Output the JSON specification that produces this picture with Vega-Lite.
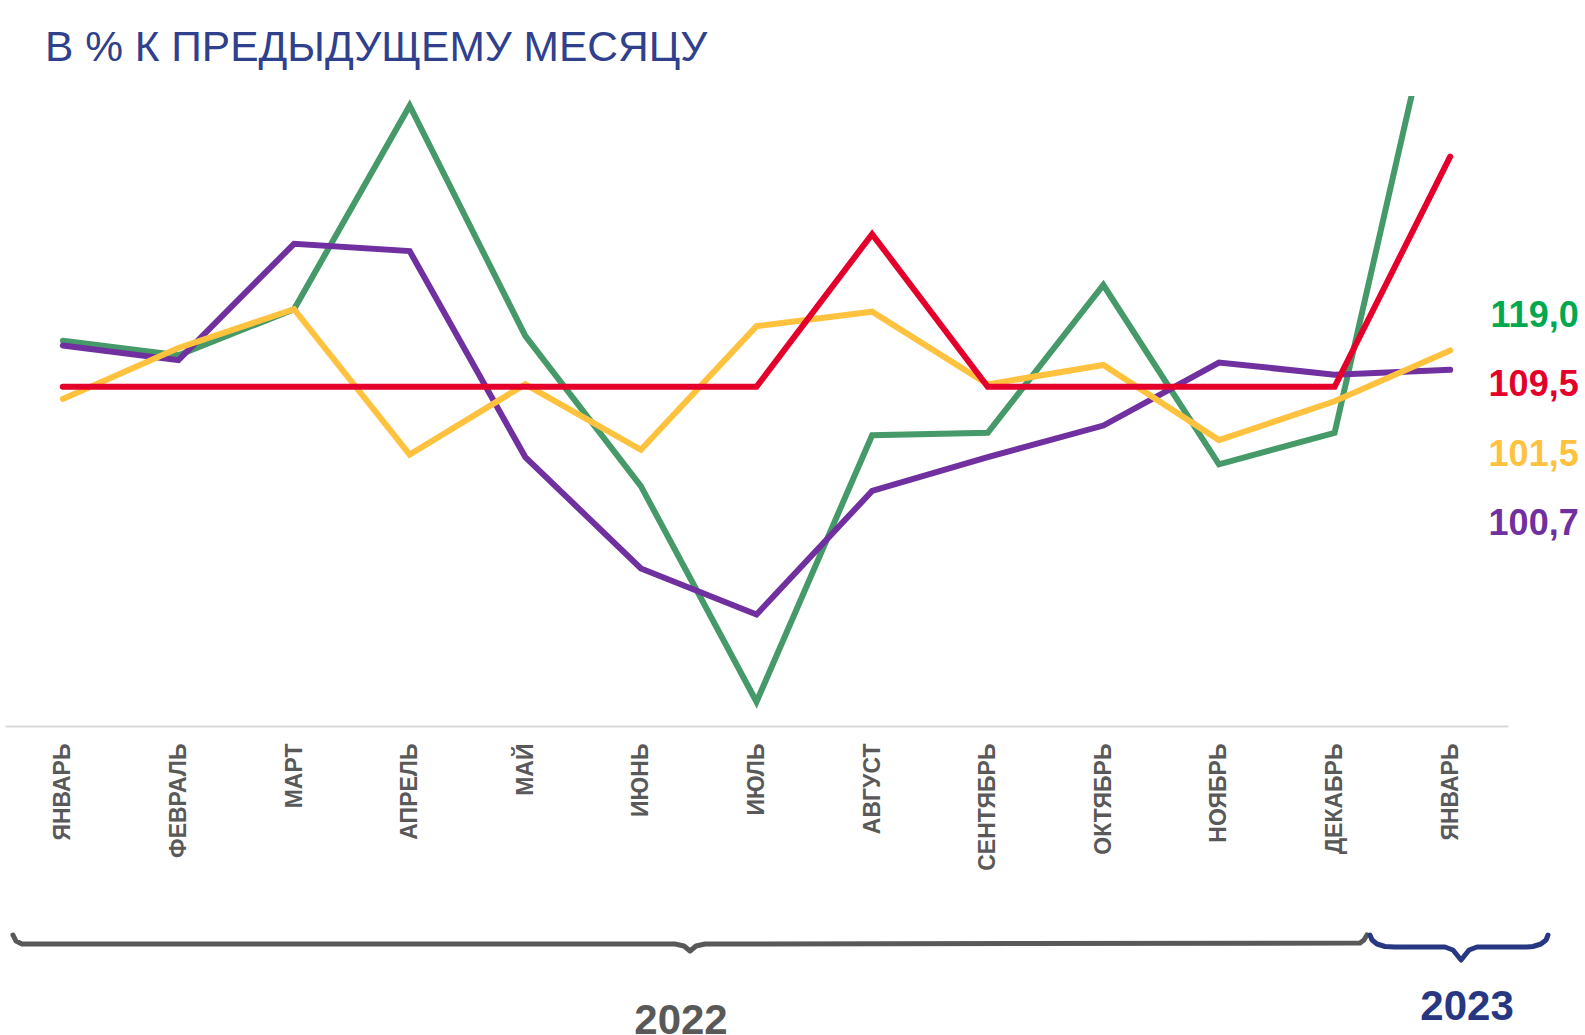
{
  "$schema": "https://vega.github.io/schema/vega-lite/v6.json",
  "background": "white",
  "padding": {"left": 5, "top": 26, "right": 5, "bottom": 0},
  "title": {
    "text": "В % К ПРЕДЫДУЩЕМУ МЕСЯЦУ",
    "anchor": "start",
    "frame": "group",
    "font": "Liberation Sans",
    "fontSize": 42.5,
    "fontWeight": "normal",
    "color": "#2F408C",
    "baseline": "alphabetic",
    "dx": 40,
    "offset": -7
  },
  "config": {"view": {"stroke": null}},
  "datasets": {
    "lines": [
      {"series": "green", "month": "ЯНВАРЬ 2022", "value": 101.9},
      {"series": "green", "month": "ФЕВРАЛЬ 2022", "value": 101.3},
      {"series": "green", "month": "МАРТ 2022", "value": 103.2},
      {"series": "green", "month": "АПРЕЛЬ 2022", "value": 111.6},
      {"series": "green", "month": "МАЙ 2022", "value": 102.1},
      {"series": "green", "month": "ИЮНЬ 2022", "value": 95.9},
      {"series": "green", "month": "ИЮЛЬ 2022", "value": 87.0},
      {"series": "green", "month": "АВГУСТ 2022", "value": 98.0},
      {"series": "green", "month": "СЕНТЯБРЬ 2022", "value": 98.1},
      {"series": "green", "month": "ОКТЯБРЬ 2022", "value": 104.2},
      {"series": "green", "month": "НОЯБРЬ 2022", "value": 96.8},
      {"series": "green", "month": "ДЕКАБРЬ 2022", "value": 98.1},
      {"series": "green", "month": "ЯНВАРЬ 2023", "value": 119.0},
      {"series": "purple", "month": "ЯНВАРЬ 2022", "value": 101.7},
      {"series": "purple", "month": "ФЕВРАЛЬ 2022", "value": 101.1},
      {"series": "purple", "month": "МАРТ 2022", "value": 105.9},
      {"series": "purple", "month": "АПРЕЛЬ 2022", "value": 105.6},
      {"series": "purple", "month": "МАЙ 2022", "value": 97.1},
      {"series": "purple", "month": "ИЮНЬ 2022", "value": 92.5},
      {"series": "purple", "month": "ИЮЛЬ 2022", "value": 90.6},
      {"series": "purple", "month": "АВГУСТ 2022", "value": 95.7},
      {"series": "purple", "month": "СЕНТЯБРЬ 2022", "value": 97.1},
      {"series": "purple", "month": "ОКТЯБРЬ 2022", "value": 98.4},
      {"series": "purple", "month": "НОЯБРЬ 2022", "value": 101.0},
      {"series": "purple", "month": "ДЕКАБРЬ 2022", "value": 100.5},
      {"series": "purple", "month": "ЯНВАРЬ 2023", "value": 100.7},
      {"series": "yellow", "month": "ЯНВАРЬ 2022", "value": 99.5},
      {"series": "yellow", "month": "ФЕВРАЛЬ 2022", "value": 101.6},
      {"series": "yellow", "month": "МАРТ 2022", "value": 103.2},
      {"series": "yellow", "month": "АПРЕЛЬ 2022", "value": 97.2},
      {"series": "yellow", "month": "МАЙ 2022", "value": 100.1},
      {"series": "yellow", "month": "ИЮНЬ 2022", "value": 97.4},
      {"series": "yellow", "month": "ИЮЛЬ 2022", "value": 102.5},
      {"series": "yellow", "month": "АВГУСТ 2022", "value": 103.1},
      {"series": "yellow", "month": "СЕНТЯБРЬ 2022", "value": 100.1},
      {"series": "yellow", "month": "ОКТЯБРЬ 2022", "value": 100.9},
      {"series": "yellow", "month": "НОЯБРЬ 2022", "value": 97.8},
      {"series": "yellow", "month": "ДЕКАБРЬ 2022", "value": 99.4},
      {"series": "yellow", "month": "ЯНВАРЬ 2023", "value": 101.5},
      {"series": "red", "month": "ЯНВАРЬ 2022", "value": 100.0},
      {"series": "red", "month": "ФЕВРАЛЬ 2022", "value": 100.0},
      {"series": "red", "month": "МАРТ 2022", "value": 100.0},
      {"series": "red", "month": "АПРЕЛЬ 2022", "value": 100.0},
      {"series": "red", "month": "МАЙ 2022", "value": 100.0},
      {"series": "red", "month": "ИЮНЬ 2022", "value": 100.0},
      {"series": "red", "month": "ИЮЛЬ 2022", "value": 100.0},
      {"series": "red", "month": "АВГУСТ 2022", "value": 106.3},
      {"series": "red", "month": "СЕНТЯБРЬ 2022", "value": 100.0},
      {"series": "red", "month": "ОКТЯБРЬ 2022", "value": 100.0},
      {"series": "red", "month": "НОЯБРЬ 2022", "value": 100.0},
      {"series": "red", "month": "ДЕКАБРЬ 2022", "value": 100.0},
      {"series": "red", "month": "ЯНВАРЬ 2023", "value": 109.5}
    ],
    "labels": [
      {"series": "green", "month": "ЯНВАРЬ 2023", "label": "119,0"},
      {"series": "red", "month": "ЯНВАРЬ 2023", "label": "109,5"},
      {"series": "yellow", "month": "ЯНВАРЬ 2023", "label": "101,5"},
      {"series": "purple", "month": "ЯНВАРЬ 2023", "label": "100,7"}
    ],
    "braces": [
      {"year": "2022", "i": -0.431, "d": 8},
      {"year": "2022", "i": -0.405, "d": 14},
      {"year": "2022", "i": -0.353, "d": 17},
      {"year": "2022", "i": 5.295, "d": 17},
      {"year": "2022", "i": 5.373, "d": 19},
      {"year": "2022", "i": 5.425, "d": 24},
      {"year": "2022", "i": 5.477, "d": 19},
      {"year": "2022", "i": 5.555, "d": 17},
      {"year": "2022", "i": 11.220, "d": 16},
      {"year": "2022", "i": 11.254, "d": 13},
      {"year": "2022", "i": 11.280, "d": 8},
      {"year": "2023", "i": 11.306, "d": 8},
      {"year": "2023", "i": 11.324, "d": 13},
      {"year": "2023", "i": 11.367, "d": 17},
      {"year": "2023", "i": 11.436, "d": 19.5},
      {"year": "2023", "i": 11.523, "d": 20},
      {"year": "2023", "i": 11.955, "d": 20},
      {"year": "2023", "i": 12.024, "d": 23},
      {"year": "2023", "i": 12.094, "d": 33},
      {"year": "2023", "i": 12.163, "d": 23},
      {"year": "2023", "i": 12.232, "d": 20},
      {"year": "2023", "i": 12.664, "d": 20},
      {"year": "2023", "i": 12.716, "d": 19.5},
      {"year": "2023", "i": 12.785, "d": 17},
      {"year": "2023", "i": 12.829, "d": 13},
      {"year": "2023", "i": 12.846, "d": 8}
    ],
    "years": [
      {"year": "2022", "i": 5.347, "d": 107},
      {"year": "2023", "i": 12.146, "d": 93}
    ]
  },
  "vconcat": [
    {
      "width": 1503,
      "height": 630,
      "layer": [
        {
          "data": {"name": "lines"},
          "mark": {"type": "line", "strokeWidth": 6, "strokeCap": "round", "strokeJoin": "miter", "clip": true},
          "encoding": {
            "x": {
              "field": "month", "type": "nominal", "sort": null,
              "scale": {"type": "point", "padding": 0.5},
              "axis": {
                "title": null,
                "labelAngle": -90,
                "labelExpr": "split(datum.label, ' ')[0]",
                "labelFont": "Liberation Sans",
                "labelFontWeight": "bold",
                "labelFontSize": 23,
                "labelColor": "#595959",
                "labelPadding": 17,
                "labelOverlap": false,
                "ticks": false,
                "grid": false,
                "domainColor": "#D9D9D9",
                "domainWidth": 2
              }
            },
            "y": {
              "field": "value", "type": "quantitative",
              "scale": {"domain": [86, 112], "zero": false, "nice": false},
              "axis": null
            },
            "color": {
              "field": "series", "type": "nominal",
              "scale": {"domain": ["green", "purple", "yellow", "red"], "range": ["#469A69", "#7030A0", "#FFC23E", "#E4002B"]},
              "legend": null
            }
          }
        },
        {
          "data": {"name": "labels"},
          "mark": {"type": "text", "align": "right", "baseline": "middle", "dx": 128.5, "font": "Liberation Sans", "fontSize": 36, "fontWeight": "bold"},
          "encoding": {
            "x": {"field": "month", "type": "nominal", "sort": null},
            "y": {
              "field": "series", "type": "nominal",
              "scale": {"type": "point", "domain": ["green", "red", "yellow", "purple"], "range": [220, 428], "padding": 0},
              "axis": null
            },
            "text": {"field": "label"},
            "color": {
              "field": "series", "type": "nominal",
              "scale": {"domain": ["green", "purple", "yellow", "red"], "range": ["#00A94F", "#7030A0", "#FFC23E", "#E4002B"]},
              "legend": null
            }
          }
        }
      ],
      "resolve": {"scale": {"y": "independent", "color": "independent"}}
    },
    {
      "width": 1503,
      "height": 110,
      "layer": [
        {
          "data": {"name": "braces"},
          "mark": {"type": "line", "strokeWidth": 5, "strokeCap": "round", "strokeJoin": "round", "clip": false},
          "encoding": {
            "x": {"field": "i", "type": "quantitative", "scale": {"domain": [-0.5, 12.5], "nice": false, "zero": false}, "axis": null},
            "y": {"field": "d", "type": "quantitative", "scale": {"domain": [0, 110], "reverse": true, "nice": false, "zero": false}, "axis": null},
            "color": {"field": "year", "type": "nominal", "scale": {"domain": ["2022", "2023"], "range": ["#595959", "#283782"]}, "legend": null}
          }
        },
        {
          "data": {"name": "years"},
          "mark": {"type": "text", "align": "center", "baseline": "alphabetic", "font": "Liberation Sans", "fontSize": 42, "fontWeight": "bold"},
          "encoding": {
            "x": {"field": "i", "type": "quantitative"},
            "y": {"field": "d", "type": "quantitative"},
            "text": {"field": "year"},
            "color": {"field": "year", "type": "nominal"}
          }
        }
      ]
    }
  ],
  "spacing": 56,
  "resolve": {"scale": {"x": "independent", "color": "independent"}}
}
